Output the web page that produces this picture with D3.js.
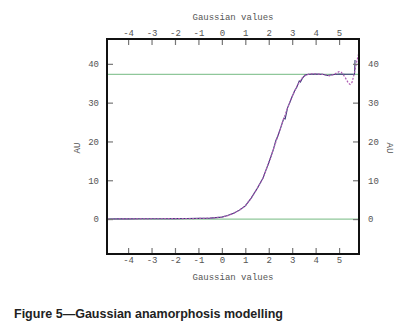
<!DOCTYPE html>
<html>
<head>
<meta charset="utf-8">
<script src="https://cdn.jsdelivr.net/npm/d3@7"></script>
<style>
  body { margin: 0; background: #fff; }
  svg { display: block; }
  .tick-label { font-family: "Liberation Mono", "DejaVu Sans Mono", monospace; font-size: 9px; fill: #555; }
  .caption { font-family: "Liberation Sans Narrow", "Liberation Sans", Arial, sans-serif; font-size: 12.5px; font-weight: bold; fill: #222; }
</style>
</head>
<body>
<svg id="chart" width="408" height="328"></svg>
<script>
// data
const xTicks = [-4, -3, -2, -1, 0, 1, 2, 3, 4, 5];
const yTicks = [0, 10, 20, 30, 40];
const refLines = [0, 37.3];

// experimental anamorphosis (solid)
const dataX = [-4.85, -4.4, -4.0, -3.5, -3.0, -2.5, -2.0, -1.5, -1.0, -0.5, 0.0, 0.25, 0.5, 0.75, 1.0, 1.25, 1.5, 1.75, 2.0, 2.1, 2.2, 2.3, 2.4, 2.5, 2.6, 2.65, 2.7, 2.8, 2.9, 3.0, 3.1, 3.2, 3.3, 3.35, 3.45, 3.55, 3.7, 4.0, 4.3, 4.5, 4.7, 5.0, 5.3, 5.66, 5.68];
const dataY = [0.0, 0.1, 0.05, 0.1, 0.08, 0.1, 0.12, 0.15, 0.18, 0.25, 0.5, 0.9, 1.5, 2.3, 3.4, 5.4, 7.8, 10.5, 14.5, 16.2, 18.0, 20.2, 21.6, 23.3, 25.2, 26.0, 25.8, 28.6, 30.1, 31.6, 33.0, 34.0, 35.6, 35.3, 36.4, 37.1, 37.3, 37.4, 37.3, 37.0, 37.2, 37.4, 37.3, 37.3, 41.0];

// fitted model (dashed)
const modelX = [-4.85, -4.0, -3.0, -2.0, -1.0, -0.5, 0.0, 0.25, 0.5, 0.75, 1.0, 1.25, 1.5, 1.75, 2.0, 2.2, 2.4, 2.6, 2.8, 3.0, 3.2, 3.4, 3.6, 3.8, 4.0, 4.3, 4.6, 4.8, 5.0, 5.1, 5.25, 5.4, 5.47, 5.55, 5.65, 5.75, 5.85];
const modelY = [0.0, 0.05, 0.08, 0.1, 0.15, 0.25, 0.5, 0.9, 1.5, 2.3, 3.4, 5.4, 7.8, 10.5, 14.5, 18.0, 21.6, 25.2, 28.6, 31.6, 34.2, 36.2, 37.2, 37.4, 37.4, 37.3, 36.9, 37.3, 38.0, 37.8, 36.6, 35.0, 34.7, 35.2, 37.5, 40.5, 43.0];

const svg = d3.select("#chart");
const box = { left: 107, right: 359, top: 39, bottom: 254 };

const x = d3.scaleLinear().domain([-4.9, 5.85]).range([box.left, box.right]);
const y = d3.scaleLinear().domain([-9, 46.4]).range([box.bottom, box.top]);

const plot = svg.append("g");
plot.append("clipPath").attr("id", "clip")
  .append("rect")
  .attr("x", box.left).attr("y", box.top)
  .attr("width", box.right - box.left).attr("height", box.bottom - box.top);

// reference lines
plot.append("g")
  .selectAll("line")
  .data(refLines)
  .join("line")
  .attr("x1", box.left).attr("x2", box.right)
  .attr("y1", (d) => y(d)).attr("y2", (d) => y(d))
  .attr("stroke", "#8fc79a")
  .attr("stroke-width", 1.2);

const line = (xs, ys) => d3.line().x((d, i) => x(xs[i])).y((d, i) => y(ys[i]))(xs);

plot.append("path")
  .attr("d", line(dataX, dataY))
  .attr("clip-path", "url(#clip)")
  .attr("fill", "none")
  .attr("stroke", "#3b3a78")
  .attr("stroke-width", 1.1);

plot.append("path")
  .attr("d", line(modelX, modelY))
  .attr("clip-path", "url(#clip)")
  .attr("fill", "none")
  .attr("stroke", "#b05cb4")
  .attr("stroke-width", 1.2)
  .attr("stroke-dasharray", "2,1.5");

// axes with inward ticks
const styleAxis = (g) => {
  g.select(".domain").remove();
  g.selectAll(".tick line").attr("stroke", "#777").attr("stroke-width", 1.2);
  g.selectAll(".tick text").attr("class", "tick-label").attr("font-family", null).attr("font-size", null).attr("fill", null);
};
const fmt = (d) => String(d).replace("\u2212", "-");

svg.append("g")
  .attr("transform", `translate(0,${box.top})`)
  .call(d3.axisTop(x).tickValues(xTicks).tickFormat(fmt).tickSizeInner(-6).tickSizeOuter(0).tickPadding(3))
  .call(styleAxis);
svg.append("g")
  .attr("transform", `translate(0,${box.bottom})`)
  .call(d3.axisBottom(x).tickValues(xTicks).tickFormat(fmt).tickSizeInner(-6).tickSizeOuter(0).tickPadding(3))
  .call(styleAxis);
svg.append("g")
  .attr("transform", `translate(${box.left},0)`)
  .call(d3.axisLeft(y).tickValues(yTicks).tickSizeInner(-6).tickSizeOuter(0).tickPadding(8))
  .call(styleAxis);
svg.append("g")
  .attr("transform", `translate(${box.right},0)`)
  .call(d3.axisRight(y).tickValues(yTicks).tickSizeInner(-6).tickSizeOuter(0).tickPadding(9))
  .call(styleAxis);

// frame
svg.append("rect")
  .attr("x", box.left).attr("y", box.top)
  .attr("width", box.right - box.left).attr("height", box.bottom - box.top)
  .attr("fill", "none")
  .attr("stroke", "#111")
  .attr("stroke-width", 2);

// axis titles
svg.append("text").attr("class", "tick-label")
  .attr("x", 233).attr("y", 20).attr("text-anchor", "middle")
  .text("Gaussian values");
svg.append("text").attr("class", "tick-label")
  .attr("x", 233).attr("y", 280).attr("text-anchor", "middle")
  .text("Gaussian values");
svg.append("text").attr("class", "tick-label")
  .attr("transform", "translate(80,148) rotate(-90)")
  .attr("text-anchor", "middle")
  .text("AU");
svg.append("text").attr("class", "tick-label")
  .attr("transform", "translate(387,148) rotate(90)")
  .attr("text-anchor", "middle")
  .text("AU");

// caption
svg.append("text").attr("class", "caption")
  .attr("x", 14).attr("y", 318)
  .attr("textLength", 269)
  .attr("lengthAdjust", "spacingAndGlyphs")
  .text("Figure 5\u2014Gaussian anamorphosis modelling");
</script>
</body>
</html>
